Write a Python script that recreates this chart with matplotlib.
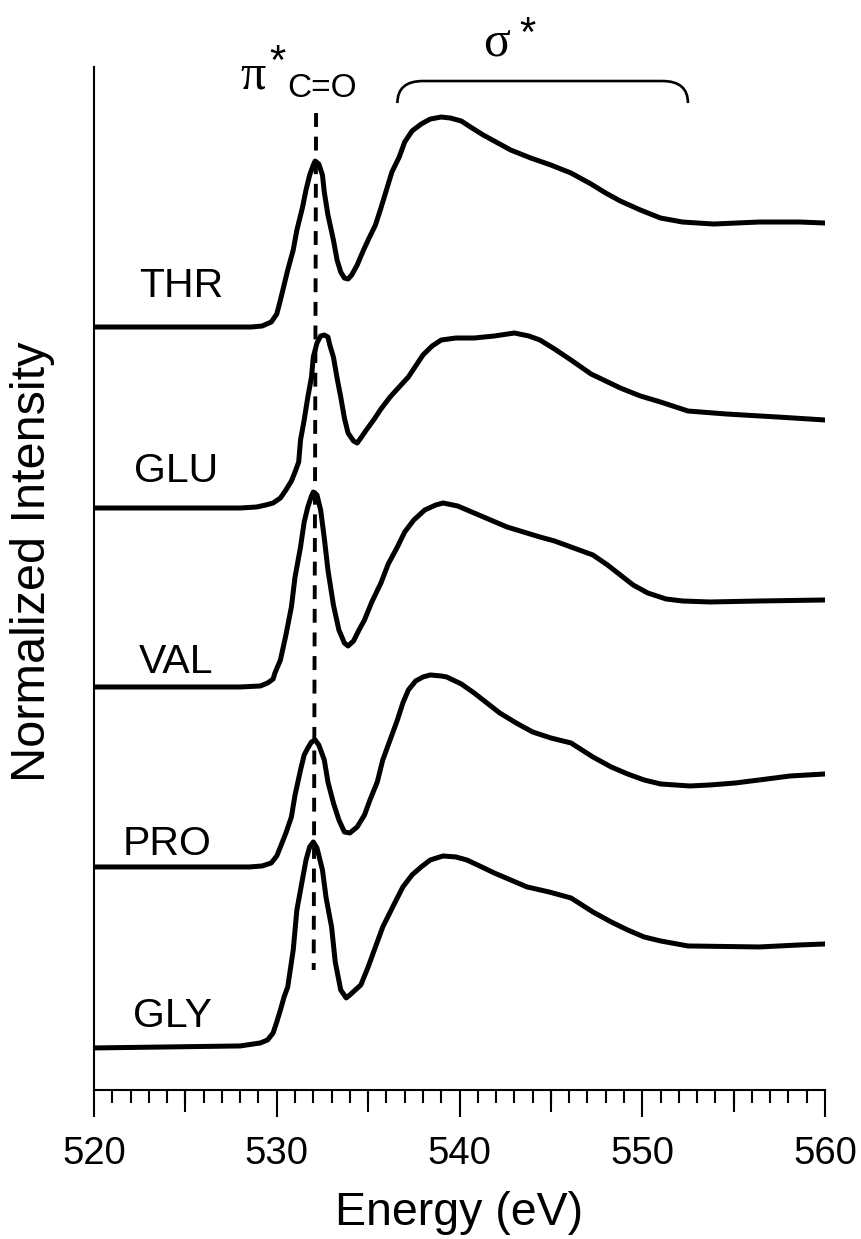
import matplotlib
matplotlib.use("Agg")
import matplotlib.pyplot as plt
from matplotlib.path import Path
from matplotlib.patches import PathPatch
import numpy as np

plt.rcParams['font.family'] = ['Liberation Sans', 'DejaVu Sans']
plt.rcParams['lines.scale_dashes'] = False

# O K-edge NEXAFS spectra of amino acids (stacked, baseline-offset)
labels = ["THR", "GLU", "VAL", "PRO", "GLY"]
offsets = [7.63, 5.82, 4.03, 2.23, 0.42]

thr_e = [520.0, 528.6, 529.2, 529.7, 530.0, 530.2, 530.4, 530.6, 530.9, 531.1,
         531.4, 531.6, 531.8, 532.0, 532.1, 532.3, 532.5, 532.6, 532.8, 533.1,
         533.3, 533.5, 533.7, 533.9, 534.1, 534.4, 534.7, 535.0, 535.4, 535.7,
         536.0, 536.3, 536.7, 537.0, 537.4, 537.9, 538.4, 539.0, 539.5, 540.1,
         540.6, 541.3, 542.1, 542.8, 543.9, 545.0, 546.1, 547.2, 548.0, 548.8,
         549.9, 551.0, 552.2, 553.9, 556.4, 558.6, 560.0]
thr_i = [0.00, 0.00, 0.01, 0.05, 0.13, 0.27, 0.42, 0.57, 0.77, 0.97,
         1.19, 1.37, 1.52, 1.62, 1.66, 1.63, 1.52, 1.35, 1.12, 0.87,
         0.67, 0.55, 0.49, 0.48, 0.52, 0.62, 0.75, 0.87, 1.02, 1.19,
         1.37, 1.55, 1.70, 1.85, 1.96, 2.03, 2.08, 2.10, 2.09, 2.06,
         2.00, 1.92, 1.84, 1.77, 1.69, 1.62, 1.54, 1.43, 1.34, 1.26,
         1.17, 1.09, 1.05, 1.03, 1.05, 1.05, 1.04]

glu_e = [520.0, 528.0, 528.9, 529.4, 529.8, 530.2, 530.5, 530.8, 531.0, 531.2,
         531.3, 531.5, 531.7, 531.9, 532.0, 532.2, 532.4, 532.6, 532.8, 532.9,
         533.1, 533.3, 533.5, 533.7, 533.9, 534.2, 534.4, 534.6, 534.9, 535.3,
         535.7, 536.2, 536.7, 537.2, 537.6, 538.0, 538.5, 539.0, 539.8, 540.8,
         541.9, 543.0, 543.8, 544.4, 545.2, 546.1, 547.2, 548.8, 549.9, 551.0,
         552.5, 554.6, 557.4, 560.0]
glu_i = [0.00, 0.00, 0.01, 0.03, 0.05, 0.10, 0.18, 0.27, 0.36, 0.46,
         0.68, 0.88, 1.11, 1.31, 1.51, 1.65, 1.72, 1.73, 1.71, 1.63,
         1.51, 1.30, 1.11, 0.90, 0.75, 0.67, 0.65, 0.70, 0.78, 0.88,
         0.99, 1.11, 1.21, 1.31, 1.42, 1.53, 1.62, 1.68, 1.70, 1.70,
         1.72, 1.75, 1.72, 1.68, 1.59, 1.48, 1.34, 1.20, 1.12, 1.06,
         0.97, 0.94, 0.91, 0.88]

val_e = [520.0, 528.0, 529.1, 529.5, 529.8, 529.9, 530.2, 530.5, 530.8, 531.0,
         531.3, 531.5, 531.7, 531.9, 532.0, 532.2, 532.4, 532.6, 532.8, 533.1,
         533.4, 533.7, 533.9, 534.2, 534.5, 534.8, 535.2, 535.7, 536.1, 536.6,
         537.0, 537.5, 538.1, 538.7, 539.1, 539.9, 540.8, 541.7, 542.6, 543.5,
         544.4, 545.2, 546.1, 547.3, 548.1, 548.8, 549.5, 550.3, 551.3, 552.2,
         553.7, 556.4, 560.0]
val_i = [0.00, 0.00, 0.01, 0.04, 0.08, 0.14, 0.27, 0.52, 0.80, 1.10,
         1.40, 1.65, 1.80, 1.91, 1.95, 1.92, 1.77, 1.49, 1.17, 0.82,
         0.57, 0.44, 0.41, 0.46, 0.57, 0.67, 0.85, 1.04, 1.23, 1.40,
         1.55, 1.67, 1.77, 1.82, 1.84, 1.81, 1.74, 1.67, 1.60, 1.55,
         1.50, 1.46, 1.40, 1.32, 1.22, 1.12, 1.02, 0.94, 0.88, 0.86,
         0.85, 0.86, 0.87]

pro_e = [520.0, 528.5, 529.2, 529.7, 530.0, 530.2, 530.5, 530.8, 531.0, 531.3,
         531.5, 531.7, 531.9, 532.1, 532.3, 532.6, 532.8, 533.1, 533.4, 533.7,
         534.0, 534.4, 534.8, 535.1, 535.5, 535.8, 536.2, 536.6, 536.9, 537.2,
         537.6, 538.0, 538.4, 539.0, 539.3, 540.1, 540.8, 541.5, 542.2, 543.1,
         544.0, 545.0, 546.1, 547.3, 548.3, 549.2, 550.1, 551.0, 552.6, 553.7,
         555.1, 556.4, 558.1, 560.0]
pro_i = [0.00, 0.00, 0.01, 0.04, 0.11, 0.20, 0.34, 0.50, 0.72, 0.97,
         1.12, 1.19, 1.25, 1.27, 1.22, 1.07, 0.85, 0.64, 0.47, 0.35,
         0.34, 0.40, 0.52, 0.67, 0.85, 1.07, 1.27, 1.47, 1.64, 1.77,
         1.86, 1.90, 1.92, 1.91, 1.90, 1.83, 1.74, 1.64, 1.54, 1.44,
         1.35, 1.29, 1.24, 1.10, 1.00, 0.93, 0.87, 0.83, 0.81, 0.82,
         0.84, 0.87, 0.91, 0.93]

gly_e = [520.0, 528.0, 529.1, 529.5, 529.8, 530.0, 530.2, 530.4, 530.6, 530.9,
         531.1, 531.4, 531.6, 531.8, 532.0, 532.2, 532.5, 532.7, 533.0, 533.2,
         533.5, 533.8, 534.0, 534.3, 534.6, 535.0, 535.4, 535.8, 536.4, 536.9,
         537.4, 537.9, 538.4, 539.1, 539.8, 540.4, 541.1, 541.9, 542.8, 543.7,
         544.9, 546.1, 547.3, 548.3, 549.2, 550.1, 551.0, 552.5, 556.4, 558.6,
         560.0]
gly_i = [0.00, 0.02, 0.05, 0.08, 0.15, 0.26, 0.38, 0.51, 0.61, 0.98,
         1.38, 1.68, 1.88, 2.01, 2.06, 2.00, 1.78, 1.50, 1.21, 0.86,
         0.58, 0.50, 0.53, 0.58, 0.63, 0.81, 1.01, 1.21, 1.43, 1.61,
         1.73, 1.81, 1.88, 1.92, 1.91, 1.88, 1.82, 1.75, 1.68, 1.61,
         1.56, 1.50, 1.36, 1.26, 1.18, 1.11, 1.07, 1.02, 1.01, 1.03,
         1.04]

energies = [thr_e, glu_e, val_e, pro_e, gly_e]
intensities = [thr_i, glu_i, val_i, pro_i, gly_i]

# label anchor points (energy, height above plot bottom)
label_x = [524.75, 524.5, 524.5, 524.0, 524.3]
label_y = [7.93, 6.08, 4.17, 2.35, 0.63]

pi_line_e = [532.15, 532.02]
pi_line_y = [9.77, 1.20]
sigma_range = [536.6, 552.5]

fig = plt.figure(figsize=(8.61, 12.39), dpi=100)
ax = fig.add_axes([0.1092, 0.1203, 0.8490, 0.8256])

for e, inten, off in zip(energies, intensities, offsets):
    ax.plot(e, np.array(inten) + off, color='black', lw=3.6,
            solid_joinstyle='round', solid_capstyle='round')

for lab, lx, ly in zip(labels, label_x, label_y):
    ax.text(lx, ly, lab, ha='center', va='baseline', fontsize=29.5)

ax.plot(pi_line_e, pi_line_y, color='black', lw=2.8, dashes=(10, 7))

# sigma* brace
x0, x1 = sigma_range
ytop, ybot = 10.09, 9.87
verts = [(x0, ybot), (x0, ytop), (x0 + 1.4, ytop),
         (x1 - 1.4, ytop),
         (x1, ytop), (x1, ybot)]
codes = [Path.MOVETO, Path.CURVE3, Path.CURVE3, Path.LINETO, Path.CURVE3, Path.CURVE3]
ax.add_patch(PathPatch(Path(verts, codes), fill=False, lw=1.9, color='black',
                       clip_on=False))

serif = ['Liberation Serif', 'DejaVu Serif']
ax.text(528.0, 10.02, "\u03c0", family=serif, fontsize=36, ha='left',
        va='baseline', clip_on=False)
ax.text(529.6, 10.47, "*", fontsize=30, ha='left', va='top', clip_on=False)
ax.text(530.6, 9.93, "C=O", fontsize=24, ha='left', va='baseline', clip_on=False)
ax.text(541.3, 10.35, "\u03c3", family=serif, fontsize=36, ha='left',
        va='baseline', clip_on=False)
ax.text(543.3, 10.75, "*", fontsize=30, ha='left', va='top', clip_on=False)

ax.set_xlim(520, 560)
ax.set_ylim(0, 10.23)
ax.set_xticks(np.arange(520, 561, 10))
ax.set_xticks(np.arange(520, 561, 1), minor=True)
ax.set_yticks([])
ax.tick_params(axis='x', which='major', length=19.5, width=1.5, labelsize=27.5, pad=14)
ax.tick_params(axis='x', which='minor', length=9.5, width=1.5)
for s in ['top', 'right']:
    ax.spines[s].set_visible(False)
for s in ['left', 'bottom']:
    ax.spines[s].set_linewidth(1.5)

# intermediate ticks every 5 eV
sec = ax.secondary_xaxis('bottom')
sec.set_xticks(np.arange(525, 560, 10))
sec.tick_params(length=15.8, width=1.5, labelbottom=False)
sec.spines['bottom'].set_visible(False)

ax.set_xlabel("Energy (eV)", fontsize=33.5, labelpad=13)
ax.set_ylabel("Normalized Intensity", fontsize=35)
ax.yaxis.set_label_coords(-0.054, 0.516)

fig.savefig("out.png", dpi=100)
